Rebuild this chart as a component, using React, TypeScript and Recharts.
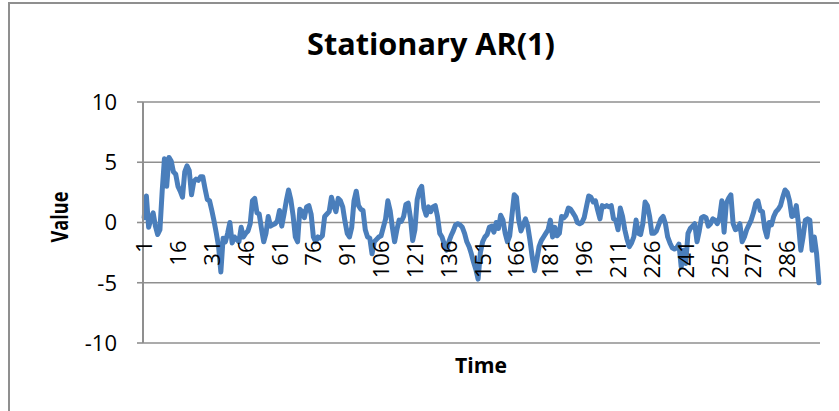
import React from 'react';
import { LineChart, Line, XAxis, YAxis, CartesianGrid } from 'recharts';

// simulated AR(1) path, one value per time step
const VALUES: number[] = [
    0.4, 2.2, -0.4, 0.3, 0.8, -0.3, -1.0, -0.6, 2.6, 5.3,
    3.0, 5.4, 5.1, 4.2, 4.0, 3.0, 2.6, 2.1, 4.2, 4.7,
    4.3, 2.3, 3.4, 3.6, 3.5, 3.8, 3.8, 2.8, 1.9, 1.8,
    1.0, 0.1, -0.9, -2.0, -4.1, -1.3, -1.6, -0.9, 0.0, -1.7,
    -1.2, -1.4, -1.6, -0.4, -1.2, -0.9, -0.7, -0.1, 1.8, 2.0,
    0.8, 0.7, -0.5, -1.6, -0.9, 0.5, -0.3, -0.2, -0.1, 0.1,
    1.0, -0.3, 0.7, 1.8, 2.7, 1.9, 0.6, -1.2, -1.6, 1.1,
    0.9, 0.4, 1.3, 1.4, 0.7, -1.2, -1.6, -1.2, -1.3, -1.1,
    0.5, 0.7, 0.9, 2.1, 1.4, 0.9, 2.0, 1.8, 1.3, 0.1,
    -0.9, -1.2, -0.4, 1.8, 2.6, 1.4, 1.1, 1.0, -0.6, -1.2,
    -1.3, -2.6, -1.6, -1.4, -1.2, -1.1, -0.4, 0.3, 1.8, 1.0,
    -0.4, -1.6, -0.6, 0.2, 0.1, 0.5, 1.5, 1.6, 0.4, -1.5,
    -0.6, 1.9, 2.7, 3.0, 1.2, 0.6, 1.3, 0.9, 1.3, 1.4,
    0.5, -0.9, -1.2, -1.8, -2.3, -1.6, -1.1, -0.7, -0.2, -0.1,
    -0.2, -0.4, -0.9, -1.6, -2.0, -2.6, -3.3, -3.9, -4.7, -2.5,
    -1.6, -1.2, -1.0, -0.4, -0.3, -0.8, 0.0, -0.5, 0.6, 0.2,
    -0.9, -1.6, -1.1, 0.6, 2.3, 2.1, 0.2, -0.7, -0.2, 0.3,
    -0.3, -1.5, -2.9, -4.0, -3.1, -2.0, -1.5, -1.2, -0.9, -0.6,
    0.2, -1.2, -0.4, -1.1, -0.9, 0.5, 0.4, 0.6, 1.2, 1.1,
    0.8, 0.5, 0.0, -0.1, 0.0, 0.4, 1.3, 2.2, 2.1, 1.7,
    1.8, 1.0, 0.3, 1.4, 1.3, 1.4, 1.3, 1.4, 0.3, 0.2,
    -0.6, 1.2, 0.5, -0.6, -1.4, -2.0, -1.7, -1.2, 0.2, -0.9,
    -1.0, -0.1, 1.7, 1.4, 0.5, -0.9, -0.9, -0.7, -0.2, 0.3,
    0.5, -0.1, -1.2, -1.7, -2.1, -2.2, -2.1, -1.8, -3.7, -2.3,
    -3.4, -0.9, -0.5, -0.3, -0.1, -1.6, -0.7, 0.4, 0.5, 0.4,
    -0.3, -0.1, 0.3, 0.2, -0.1, 0.4, 1.8, -0.8, 1.6, 2.0,
    2.3, -0.1, -0.6, -0.5, -0.1, -1.6, -1.2, -0.6, -0.2, 0.2,
    0.8, 1.6, 1.8, 1.0, 0.9, -0.5, -1.2, 0.0, -0.2, 0.5,
    0.9, 1.1, 1.4, 2.1, 2.7, 2.5, 1.8, 0.5, 0.6, 1.4,
    -0.2, -2.3, -1.2, 0.2, 0.3, 0.2, -2.3, -1.2, -2.6, -5.0,
];

const TIME: number[] = VALUES.map((_, i) => i + 1);

const X_TICKS = [1, 16, 31, 46, 61, 76, 91, 106, 121, 136, 151, 166, 181, 196, 211, 226, 241, 256, 271, 286];
const Y_TICKS = [-10, -5, 0, 5, 10];

const data = TIME.map((t, i) => ({ t, value: VALUES[i] }));

const W = 839;
const H = 411;
const MARGIN = { top: 102, right: 19, bottom: 38, left: 83 };
const Y_AXIS_W = 60;
const X_AXIS_H = 30;
const PLOT_H = H - MARGIN.top - MARGIN.bottom - X_AXIS_H;
const ZERO_Y = MARGIN.top + PLOT_H / 2;

const FONT = '"Open Sans", "Liberation Sans", sans-serif';
const GRID = '#8f8f8f';
const BLUE = '#4a7ebb';

const YTick = ({ x, y, payload }: any) => (
    <text x={x} y={y} dy="0.36em" textAnchor="end" fontFamily={FONT} fontSize={22} fill="#000">
        {payload.value}
    </text>
);

// category labels hang under the zero line, rotated to read upward
const XTick = ({ x, payload }: any) => {
    const bx = x + 8;
    const by = ZERO_Y + 18;
    return (
        <text
            x={bx}
            y={by}
            textAnchor="end"
            transform={`rotate(-90 ${bx} ${by})`}
            fontFamily={FONT}
            fontSize={22}
            fill="#000"
        >
            {payload.value}
        </text>
    );
};

export default function App() {
    return (
        <div style={{ position: 'absolute', left: 0, top: 0, width: W, height: H, background: '#fff', overflow: 'hidden' }}>
            <LineChart width={W} height={H} data={data} margin={MARGIN}>
                <CartesianGrid vertical={false} stroke={GRID} strokeWidth={1.6} />
                <XAxis
                    dataKey="t"
                    type="number"
                    domain={[0.5, 300.5]}
                    ticks={X_TICKS}
                    interval={0}
                    height={X_AXIS_H}
                    axisLine={false}
                    tickLine={false}
                    tick={<XTick />}
                />
                <YAxis
                    domain={[-10, 10]}
                    ticks={Y_TICKS}
                    width={Y_AXIS_W}
                    axisLine={{ stroke: GRID, strokeWidth: 2 }}
                    tickLine={{ stroke: GRID, strokeWidth: 1.6 }}
                    tickSize={6}
                    tickMargin={20}
                    tick={<YTick />}
                />
                <Line
                    type="linear"
                    dataKey="value"
                    stroke={BLUE}
                    strokeWidth={5}
                    strokeLinejoin="round"
                    strokeLinecap="round"
                    dot={false}
                    isAnimationActive={false}
                />
            </LineChart>

            <svg width={W} height={H} style={{ position: 'absolute', left: 0, top: 0, pointerEvents: 'none' }}>
                <rect x={9} y={3} width={W + 20} height={H + 20} fill="none" stroke={GRID} strokeWidth={2} />
                <text
                    x={431}
                    y={55}
                    textAnchor="middle"
                    fontFamily={FONT}
                    fontWeight="bold"
                    fontSize={31}
                    textLength={248}
                    lengthAdjust="spacingAndGlyphs"
                    fill="#000"
                >
                    Stationary AR(1)
                </text>
                <text
                    x={68}
                    y={217}
                    textAnchor="middle"
                    transform="rotate(-90 68 217)"
                    fontFamily={FONT}
                    fontWeight="bold"
                    fontSize={23}
                    textLength={51}
                    lengthAdjust="spacingAndGlyphs"
                    fill="#000"
                >
                    Value
                </text>
                <text
                    x={481}
                    y={373}
                    textAnchor="middle"
                    fontFamily={FONT}
                    fontWeight="bold"
                    fontSize={22}
                    textLength={52}
                    lengthAdjust="spacingAndGlyphs"
                    fill="#000"
                >
                    Time
                </text>
            </svg>
        </div>
    );
}
